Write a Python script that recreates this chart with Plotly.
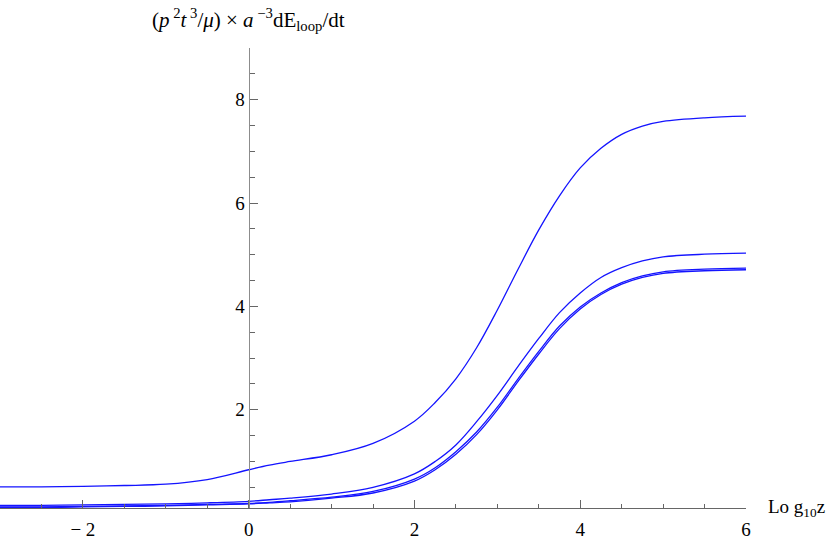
import plotly.graph_objects as go

# ---- data ----
x_vals = [-3, -2.5, -2, -1.5, -1, -0.5, 0, 0.25, 0.5, 1, 1.5, 2, 2.25, 2.5, 2.75,
          3, 3.25, 3.5, 3.75, 4, 4.25, 4.5, 4.75, 5, 5.5, 6]

curve_a = [0.51, 0.51, 0.52, 0.535, 0.56, 0.65, 0.84, 0.93, 1.00, 1.13, 1.35, 1.78, 2.14, 2.60, 3.20,
           3.93, 4.72, 5.48, 6.14, 6.68, 7.06, 7.33, 7.49, 7.58, 7.65, 7.68]
curve_b = [0.15, 0.15, 0.16, 0.17, 0.18, 0.20, 0.23, 0.26, 0.29, 0.37, 0.50, 0.76, 1.00, 1.32, 1.77,
           2.28, 2.84, 3.38, 3.88, 4.26, 4.56, 4.75, 4.88, 4.96, 5.01, 5.03]
curve_c = [0.12, 0.12, 0.13, 0.14, 0.15, 0.17, 0.19, 0.21, 0.24, 0.31, 0.42, 0.66, 0.88, 1.19, 1.57,
           2.05, 2.60, 3.13, 3.62, 3.99, 4.26, 4.46, 4.59, 4.67, 4.72, 4.74]
curve_d = [0.11, 0.11, 0.12, 0.13, 0.14, 0.16, 0.18, 0.20, 0.22, 0.29, 0.39, 0.62, 0.84, 1.14, 1.52,
           2.00, 2.55, 3.08, 3.57, 3.95, 4.23, 4.43, 4.56, 4.64, 4.69, 4.71]

x_tick_vals = [-2, 0, 2, 4, 6]
x_tick_text = ["\u2212 2", "0", "2", "4", "6"]
y_tick_vals = [2, 4, 6, 8]
y_tick_text = ["2", "4", "6", "8"]

LINE_COLOR = "rgb(20,20,255)"
SERIF = "Liberation Serif"

fig = go.Figure()
for ys in (curve_a, curve_b, curve_c, curve_d):
    fig.add_trace(go.Scatter(
        x=x_vals, y=ys, mode="lines",
        line=dict(color=LINE_COLOR, width=1.3, shape="spline", smoothing=1.0),
        hoverinfo="skip",
    ))

axis_grey = "#666666"
fig.update_layout(
    width=830, height=540,
    margin=dict(l=0, r=84, t=48, b=32),
    plot_bgcolor="white", paper_bgcolor="white",
    showlegend=False,
    xaxis=dict(
        range=[-3, 6], showgrid=False, zeroline=False, automargin=False,
        showline=True, linecolor=axis_grey, linewidth=1,
        ticks="inside", ticklen=8, tickwidth=1, tickcolor=axis_grey,
        tickmode="array", tickvals=x_tick_vals, ticktext=x_tick_text,
        tickfont=dict(family=SERIF, size=19, color="black"),
        ticklabelstandoff=4,
        minor=dict(dtick=0.5, tick0=0, ticks="inside", ticklen=4, tickwidth=1, tickcolor=axis_grey),
    ),
    yaxis=dict(
        range=[0.1, 9.0], showgrid=False, zeroline=False, automargin=False,
        anchor="free", position=1/3,
        showline=True, linecolor="#8c8c8c", linewidth=1,
        ticks="inside", ticklen=8, tickwidth=1, tickcolor=axis_grey,
        tickmode="array", tickvals=y_tick_vals, ticktext=y_tick_text,
        tickfont=dict(family=SERIF, size=19, color="black"),
        minor=dict(dtick=0.5, tick0=0, ticks="inside", ticklen=5, tickwidth=1, tickcolor=axis_grey),
    ),
)

fig.add_annotation(
    text="(<i>p</i><sup> 2</sup><i>t</i><sup> 3</sup>/<i>\u03bc</i>) \u00d7 <i>a</i><sup> \u22123</sup>dE<sub>loop</sub>/dt",
    xref="x", x=0, yref="paper", y=1.061, xanchor="center", yanchor="middle",
    showarrow=False, font=dict(family=SERIF, size=21, color="black"),
)
fig.add_annotation(
    text="Lo g<sub>10</sub>z",
    xref="paper", x=1.027, yref="paper", y=0.0, xanchor="left", yanchor="middle",
    showarrow=False, font=dict(family=SERIF, size=19, color="black"),
)

fig.write_html("out.html", config={"displayModeBar": False},
               post_script="document.body.style.margin='0';")
